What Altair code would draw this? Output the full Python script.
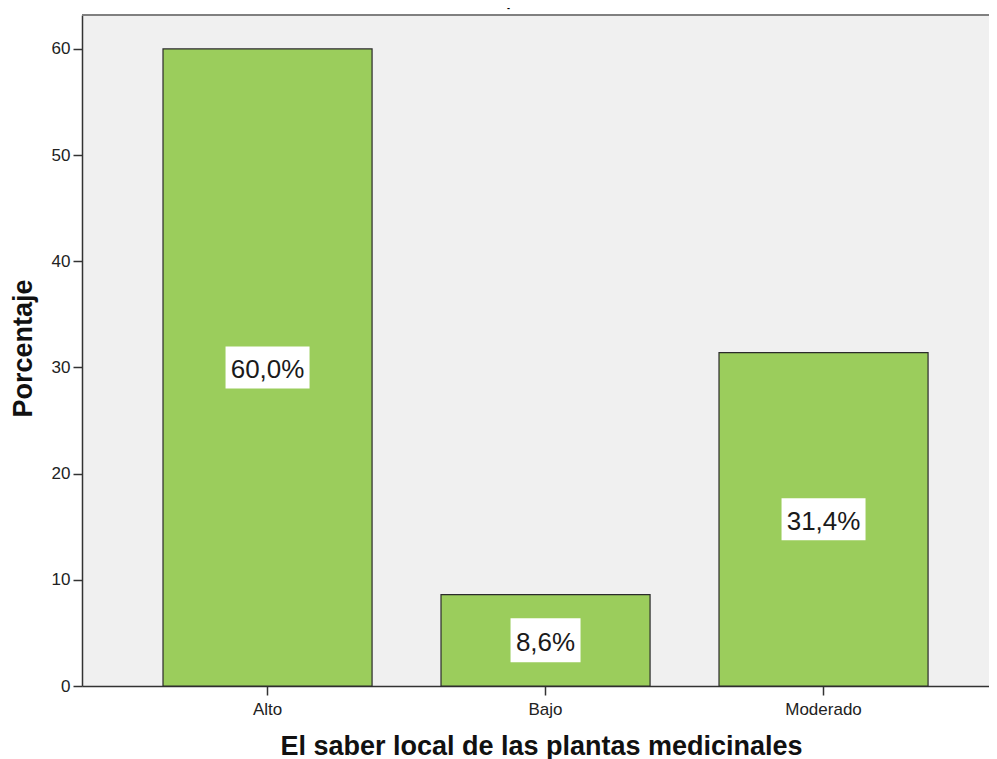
import altair as alt
import pandas as pd

categories = ["Alto", "Bajo", "Moderado"]
percentages = [60.0, 8.6, 31.4]
value_labels = ["60,0%", "8,6%", "31,4%"]
y_ticks = [0, 10, 20, 30, 40, 50, 60]

df = pd.DataFrame({"cat": categories, "pct": percentages, "lab": value_labels})

W, H = 907, 671
FONT = "Liberation Sans"

x_scale = alt.Scale(paddingInner=0.248, paddingOuter=0.2553, align=0.5707)
y_scale = alt.Scale(domain=[0, 63.2], nice=False)

x_axis = alt.Axis(
    title="El saber local de las plantas medicinales", labelAngle=0,
    labelFont=FONT, labelFontSize=17, labelColor="#222222", labelPadding=6,
    ticks=True, tickSize=9, tickColor="#333333", tickWidth=1.5,
    domain=True, domainColor="#333333", domainWidth=1.5,
    titleFont=FONT, titleFontSize=27, titleFontWeight="bold", titleColor="#111111",
    titleX=459, titleY=68, titleBaseline="alphabetic", titleAlign="center",
)
y_axis = alt.Axis(
    values=y_ticks, title="Porcentaje", grid=False,
    labelFont=FONT, labelFontSize=17, labelColor="#222222", labelPadding=3,
    ticks=True, tickSize=9, tickColor="#333333", tickWidth=1.5,
    domain=True, domainColor="#333333", domainWidth=1.5,
    titleFont=FONT, titleFontSize=27, titleFontWeight="bold", titleColor="#111111",
    titleX=-51, titleY=333, titleAngle=270, titleBaseline="alphabetic", titleAlign="center",
)

X = alt.X("cat:N", sort=categories, scale=x_scale, axis=x_axis)

base = alt.Chart(df)

bars = base.mark_bar(color="#9BCD5C", stroke="#2b2b2b", strokeWidth=1.2).encode(
    x=X,
    y=alt.Y("pct:Q", scale=y_scale, axis=y_axis),
)

boxes = base.transform_calculate(
    mid="datum.pct / 2",
    box="length(datum.lab) > 4 ? 'M-2.1,-1.05L2.1,-1.05L2.1,1.05L-2.1,1.05Z' : 'M-1.75,-1.1L1.75,-1.1L1.75,1.1L-1.75,1.1Z'",
).mark_point(filled=True, color="white", opacity=1, strokeWidth=0, size=1600).encode(
    x=X,
    y=alt.Y("mid:Q", scale=y_scale, axis=y_axis),
    shape=alt.Shape("box:N", scale=None),
)

texts = base.transform_calculate(mid="datum.pct / 2").mark_text(
    font=FONT, fontSize=26, color="#1a1a1a", baseline="middle", dy=3
).encode(
    x=X,
    y=alt.Y("mid:Q", scale=y_scale, axis=y_axis),
    text="lab:N",
)

top_line = alt.Chart(pd.DataFrame({"k": [0]})).mark_rule(color="#808080", strokeWidth=2).encode(
    y=alt.value(0), x=alt.value(0), x2=alt.value(W)
)

chart = alt.layer(bars, boxes, texts, top_line).properties(
    width=W, height=H,
    title=alt.TitleParams(text="-", fontSize=9, fontWeight="bold", color="black", offset=1, dx=-27),
    autosize=alt.AutoSizeParams(type="none"),
    padding={"left": 74, "top": 7, "right": 0, "bottom": 73},
    background="white",
).configure_view(stroke=None, fill="#F0F0F0")

chart.save("out.html", embed_options={"renderer": "svg", "actions": False})
